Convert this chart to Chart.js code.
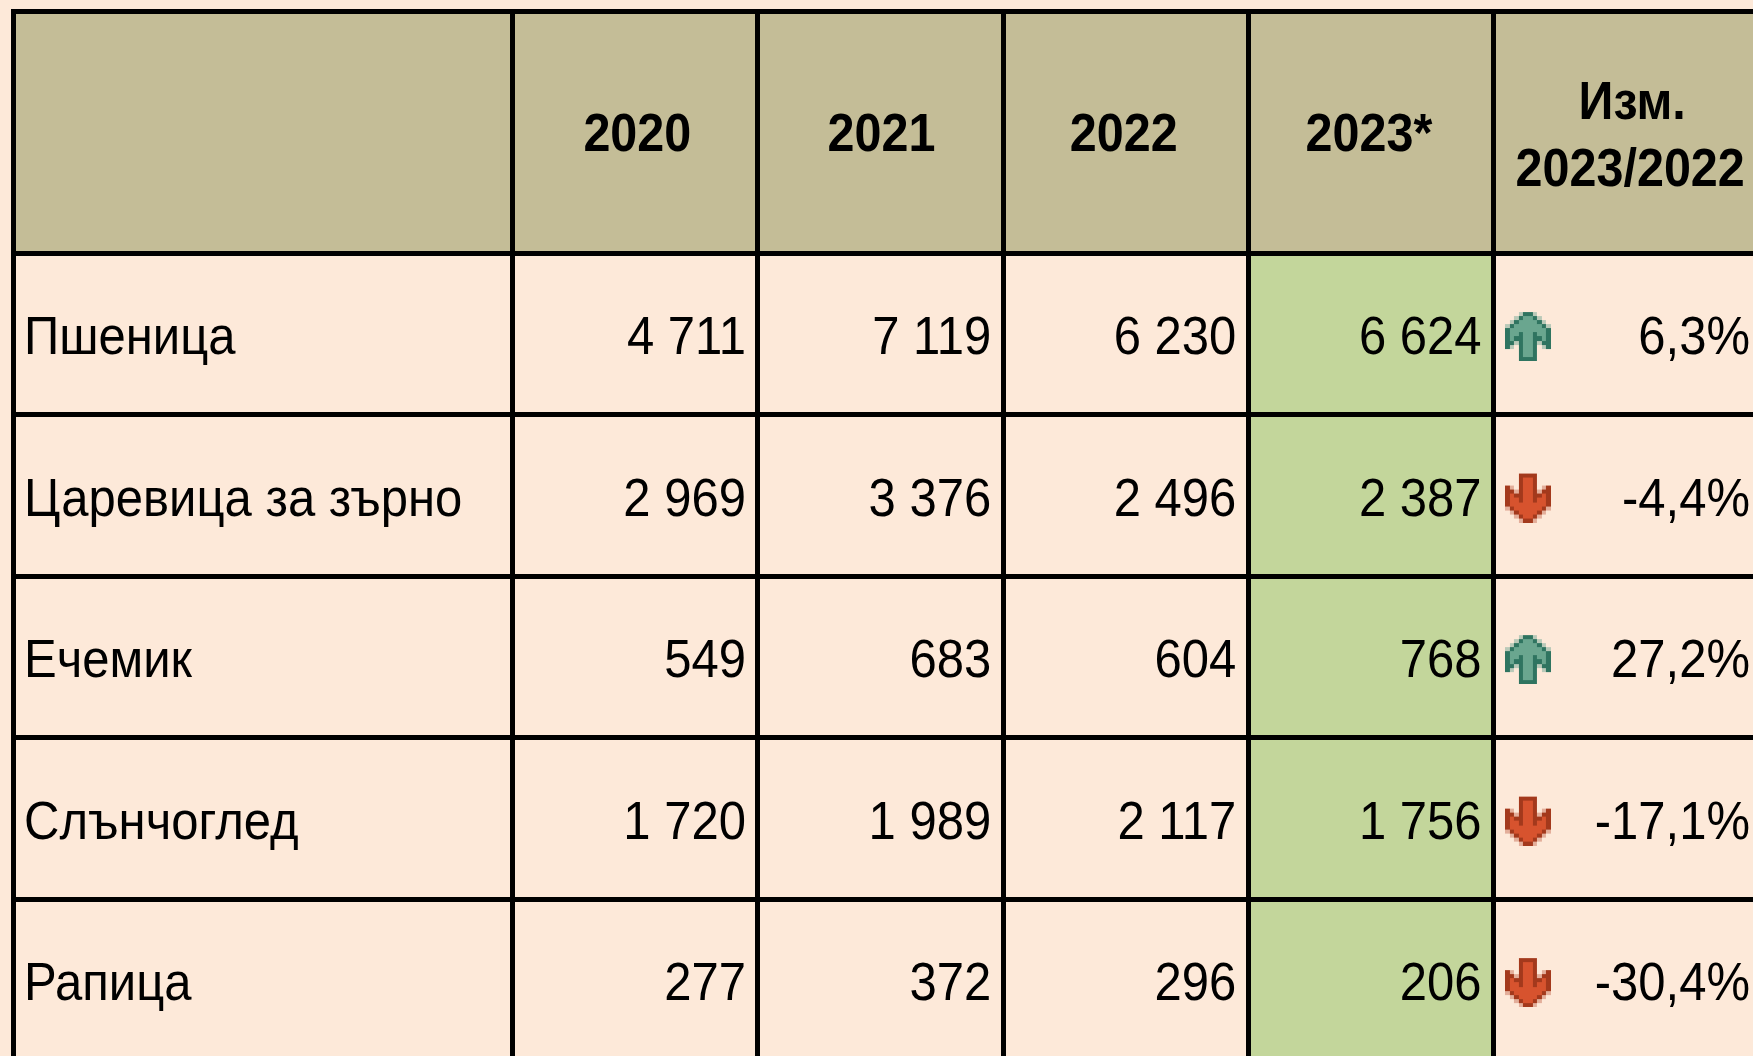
<!DOCTYPE html>
<html lang="bg">
<head>
<meta charset="utf-8">
<title>Реколта</title>
<script src="https://cdn.jsdelivr.net/npm/chart.js@4/dist/chart.umd.js"></script>
<style>
  html, body { margin: 0; padding: 0; background: #fde9d9; overflow: hidden; }
  #wrap { width: 1753px; height: 1056px; }
</style>
</head>
<body>
<div id="wrap"><canvas id="table"></canvas></div>
<script>
const crops = ["Пшеница", "Царевица за зърно", "Ечемик", "Слънчоглед", "Рапица"];
const yearLabels = ["2020", "2021", "2022", "2023*"];
const changeLabel = ["Изм.", "2023/2022"];

const values2020 = [4711, 2969, 549, 1720, 277];
const values2021 = [7119, 3376, 683, 1989, 372];
const values2022 = [6230, 2496, 604, 2117, 296];
const values2023 = [6624, 2387, 768, 1756, 206];
const changes = [6.3, -4.4, 27.2, -17.1, -30.4];

const valueColumns = [values2020, values2021, values2022, values2023];

// scale units: column i and row i are centred on i, the edges sit on the half steps
const X_MIN = -1.538, X_MAX = 5.558;
const Y_MIN = -0.997, Y_MAX = 5.47;
const COL_WIDTH = 245.2;

const colEdges = [X_MIN, 0.5, 1.5, 2.5, 3.5, 4.5];
const rowEdges = [Y_MIN, 0.5, 1.5, 2.5, 3.5, 4.5];

const BLACK = "#000000";
const LINE = 5;
const FONT = '"Liberation Sans", Arial, sans-serif';
const STRETCH = 1.1; // the source text is a bit taller than the font
const headerNudge = [2, 1, -2, -2]; // year headers are not quite centred in the source

const arrowRows = [
  "...lddl...",
  "..ldffdl..",
  ".ldffffdl.",
  "ldffffffdl",
  "dffffffffd",
  "dffdffdffd",
  "dfddffddfd",
  "ddldffdldd",
  "dl.dffd.ld",
  "...dffd...",
  "...dffd...",
  "...dddd..."
];

const upColors = { l: "#b9c9b8", d: "#2f7460", f: "#6aa68f" };
const downColors = { l: "#e3ae9a", d: "#a3391c", f: "#d7532e" };

function arrowIcon(colors, flip) {
  const c = document.createElement("canvas");
  c.width = 46;
  c.height = 54; // 5 blank px on top push the icon a bit below the row centre
  const g = c.getContext("2d");
  const rows = flip ? arrowRows.slice().reverse() : arrowRows;
  rows.forEach((row, r) => {
    [...row].forEach((ch, k) => {
      if (ch === ".") return;
      g.fillStyle = colors[ch];
      const x0 = Math.round(k * 4.6), x1 = Math.round((k + 1) * 4.6);
      const y0 = Math.round(r * 4.08), y1 = Math.round((r + 1) * 4.08);
      g.fillRect(x0, y0 + 5, x1 - x0, y1 - y0);
    });
  });
  return c;
}

const upArrow = arrowIcon(upColors, false);
const downArrow = arrowIcon(downColors, true);

function fmt(v) {
  return String(v).replace(/\B(?=(\d{3})+$)/g, " ");
}

function fmtChange(v) {
  return v.toFixed(1).replace(".", ",") + "%";
}

function drawText(ctx, text, x, y) {
  ctx.save();
  ctx.translate(x, y);
  ctx.scale(1, STRETCH);
  ctx.fillText(text, 0, 0);
  ctx.restore();
}

const tableText = {
  id: "tableText",
  afterDraw(chart) {
    const { ctx, scales } = chart;
    const x = scales.x, y = scales.y;
    ctx.save();
    ctx.fillStyle = BLACK;
    ctx.textBaseline = "alphabetic";

    ctx.font = "bold 48.5px " + FONT;
    ctx.textAlign = "center";
    const headY = y.getPixelForValue((Y_MIN + 0.5) / 2);
    yearLabels.forEach((label, i) => {
      drawText(ctx, label, x.getPixelForValue(i + 1) + headerNudge[i], headY + 19);
    });
    const changeX = x.getPixelForValue(5) + 14;
    drawText(ctx, changeLabel[0], changeX + 2, headY - 13);
    drawText(ctx, changeLabel[1], changeX, headY + 54);

    ctx.font = "49px " + FONT;
    crops.forEach((crop, r) => {
      const rowY = y.getPixelForValue(r + 1) + 20;
      ctx.textAlign = "left";
      drawText(ctx, crop, 24, rowY);
      ctx.textAlign = "right";
      valueColumns.forEach((col, i) => {
        drawText(ctx, fmt(col[r]), x.getPixelForValue(i + 1.5) - 12, rowY);
      });
      drawText(ctx, fmtChange(changes[r]), 1750, rowY);
    });
    ctx.restore();
  }
};

function edgeTicks(edges) {
  return (scale) => {
    scale.ticks = edges.map((value) => ({ value }));
  };
}

const gridStyle = { color: BLACK, lineWidth: LINE, z: 1, drawTicks: false, offset: false };
const borderStyle = { display: true, color: BLACK, width: LINE, z: 1 };

new Chart(document.getElementById("table"), {
  type: "bar",
  data: {
    datasets: [
      {
        label: "header",
        data: [{ x: (X_MIN + X_MAX) / 2, y: [Y_MIN, 0.5] }],
        backgroundColor: "#c4bd97",
        barThickness: (X_MAX - X_MIN) * COL_WIDTH
      },
      {
        label: "2023*",
        data: [{ x: 4, y: [0.5, Y_MAX] }],
        backgroundColor: "#c3d69b",
        barThickness: COL_WIDTH
      },
      {
        type: "scatter",
        label: "change",
        data: changes.map((v, r) => ({ x: 4.64, y: r + 1 })),
        pointStyle: changes.map((v) => (v < 0 ? downArrow : upArrow)),
        pointRadius: 23
      }
    ]
  },
  options: {
    responsive: true,
    maintainAspectRatio: false,
    animation: false,
    grouped: false,
    layout: { autoPadding: false, padding: { left: 13, top: 11.5, right: 0, bottom: 0 } },
    plugins: { legend: { display: false }, tooltip: { enabled: false } },
    scales: {
      x: {
        type: "linear",
        position: "top",
        offset: false,
        min: X_MIN,
        max: X_MAX,
        afterBuildTicks: edgeTicks(colEdges),
        ticks: { display: false },
        grid: gridStyle,
        border: borderStyle
      },
      y: {
        type: "linear",
        position: "left",
        reverse: true,
        min: Y_MIN,
        max: Y_MAX,
        afterBuildTicks: edgeTicks(rowEdges),
        ticks: { display: false },
        grid: gridStyle,
        border: borderStyle
      }
    }
  },
  plugins: [tableText]
});
</script>
</body>
</html>
